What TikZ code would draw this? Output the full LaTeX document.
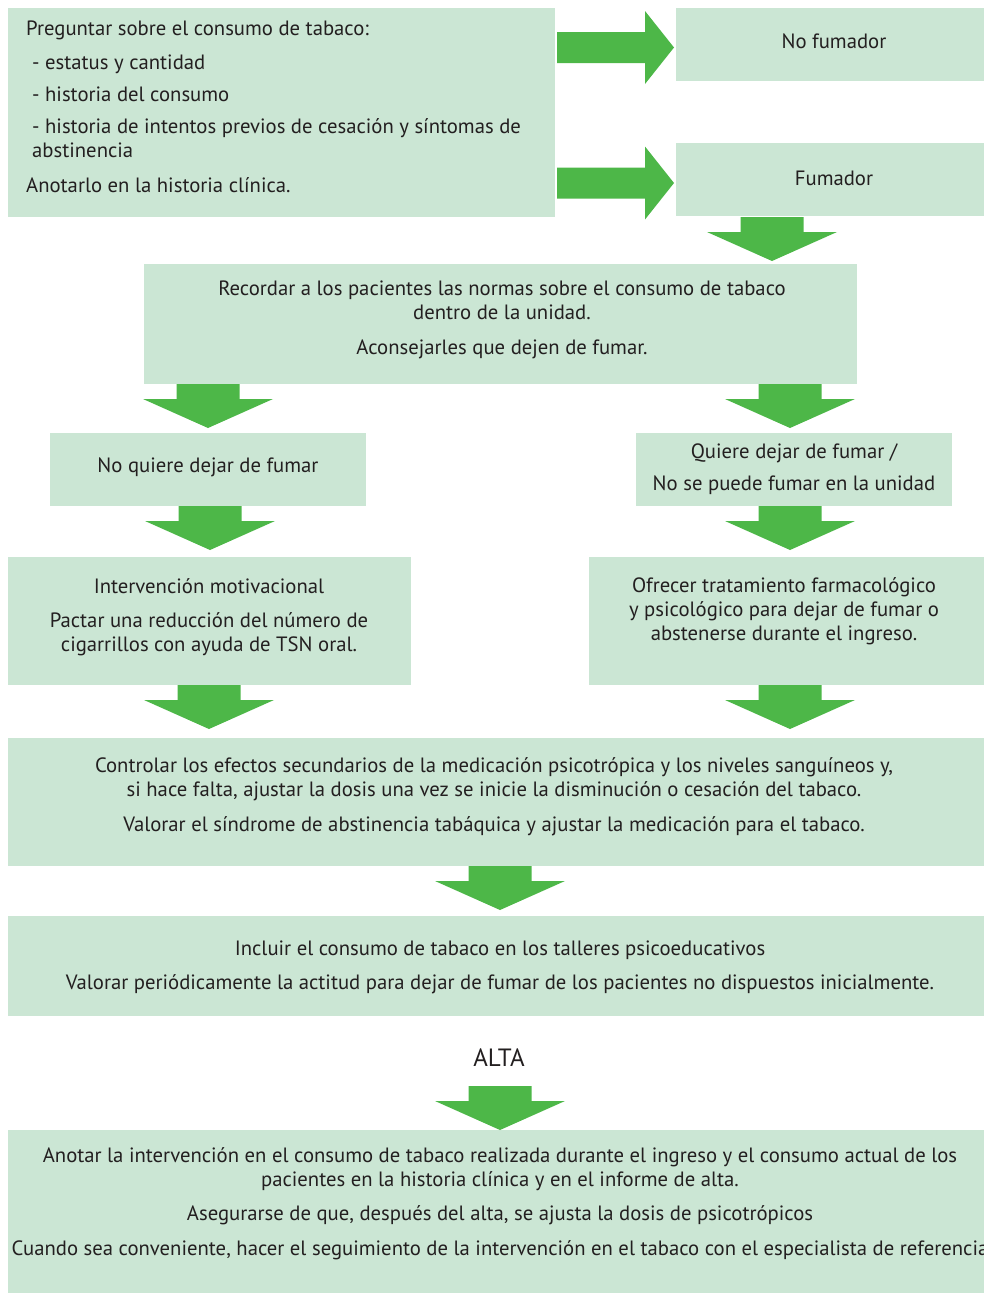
\documentclass[tikz,border=0pt]{standalone}
\usepackage{fontspec}
\setmainfont{PT Sans}
\definecolor{boxfill}{RGB}{203,230,212}
\definecolor{agreen}{RGB}{77,183,72}
\definecolor{txt}{RGB}{35,31,32}
\tikzset{
  box/.style={fill=boxfill, draw=none, inner sep=0pt, anchor=north west},
  lbl/.style={text=txt, inner sep=0pt, align=center, font=\fontsize{20.7}{24}\selectfont},
  darr/.pic={\fill[agreen] (-31.5,0) -- (31.5,0) -- (31.5,15) -- (65,15) -- (0,44) -- (-65,15) -- (-31.5,15) -- cycle;},
  rarr/.pic={\fill[agreen] (0,-15.5) -- (88,-15.5) -- (88,-36.5) -- (117,0) -- (88,36.5) -- (88,15.5) -- (0,15.5) -- cycle;}
}
\begin{document}
\begin{tikzpicture}[x=1pt,y=-1pt]
\useasboundingbox (0,0) rectangle (984,1293);
\clip (0,0) rectangle (984,1293);
% boxes
\node[box, minimum width=547pt, minimum height=209pt] (b1) at (8,8) {};
\node[box, minimum width=308pt, minimum height=73pt] (nf) at (676,8) {};
\node[box, minimum width=308pt, minimum height=73pt] (fu) at (676,143) {};
\node[box, minimum width=713pt, minimum height=120pt] (rec) at (144,264) {};
\node[box, minimum width=316pt, minimum height=73pt] (nq) at (50,433) {};
\node[box, minimum width=316pt, minimum height=73pt] (qd) at (636,433) {};
\node[box, minimum width=403pt, minimum height=128pt] (im) at (8,557) {};
\node[box, minimum width=395pt, minimum height=128pt] (of) at (589,557) {};
\node[box, minimum width=976pt, minimum height=128pt] (co) at (8,738) {};
\node[box, minimum width=976pt, minimum height=100pt] (in) at (8,916) {};
\node[box, minimum width=976pt, minimum height=163pt] (an) at (8,1130) {};
% arrows
\pic at (557,47.5) {rarr};
\pic at (557,183) {rarr};
\pic at (772,217) {darr};
\pic at (208,384) {darr};
\pic at (790,384) {darr};
\pic at (210,506) {darr};
\pic at (790,506) {darr};
\pic at (209,685) {darr};
\pic at (790,685) {darr};
\pic at (500,866) {darr};
\pic at (500,1086) {darr};
% texts
\node[lbl, align=left, anchor=north west] (t1) at (26,21) {Preguntar sobre el consumo de tabaco:\\[10pt]
\hspace*{6pt}- estatus y cantidad\\[8pt]
\hspace*{6pt}- historia del consumo\\[8pt]
\hspace*{6pt}- historia de intentos previos de cesación y síntomas de\\
\hspace*{6pt}abstinencia\\[11pt]
Anotarlo en la historia clínica.};
\node[lbl] (t2) at (834,41) {No fumador};
\node[lbl] (t3) at (834,178) {Fumador};
\node[lbl] (t4) at (502,320) {Recordar a los pacientes las normas sobre el consumo de tabaco\\
dentro de la unidad.\\[11pt]
Aconsejarles que dejen de fumar.};
\node[lbl] (t5) at (208,467) {No quiere dejar de fumar};
\node[lbl] (t6) at (794,469) {Quiere dejar de fumar /\\[8pt]
No se puede fumar en la unidad};
\node[lbl] (t7) at (209,617) {Intervención motivacional\\[10pt]
Pactar una reducción del número de\\
cigarrillos con ayuda de TSN oral.};
\node[lbl] (t8) at (784,611.5) {Ofrecer tratamiento farmacológico\\
y psicológico para dejar de fumar o\\
abstenerse durante el ingreso.};
\node[lbl] (t9) at (494,796.5) {Controlar los efectos secundarios de la medicación psicotrópica y los niveles sanguíneos y,\\
si hace falta, ajustar la dosis una vez se inicie la disminución o cesación del tabaco.\\[11pt]
Valorar el síndrome de abstinencia tabáquica y ajustar la medicación para el tabaco.};
\node[lbl] (t10) at (500,967.5) {Incluir el consumo de tabaco en los talleres psicoeducativos\\[10pt]
Valorar periódicamente la actitud para dejar de fumar de los pacientes no dispuestos inicialmente.};
\node[lbl, font=\fontsize{25}{30}\selectfont] (alta) at (499,1058) {ALTA};
\node[lbl] (t11) at (500,1203.5) {Anotar la intervención en el consumo de tabaco realizada durante el ingreso y el consumo actual de los\\
pacientes en la historia clínica y en el informe de alta.\\[10pt]
Asegurarse de que, después del alta, se ajusta la dosis de psicotrópicos\\[11pt]
Cuando sea conveniente, hacer el seguimiento de la intervención en el tabaco con el especialista de referencia};
\end{tikzpicture}
\end{document}
